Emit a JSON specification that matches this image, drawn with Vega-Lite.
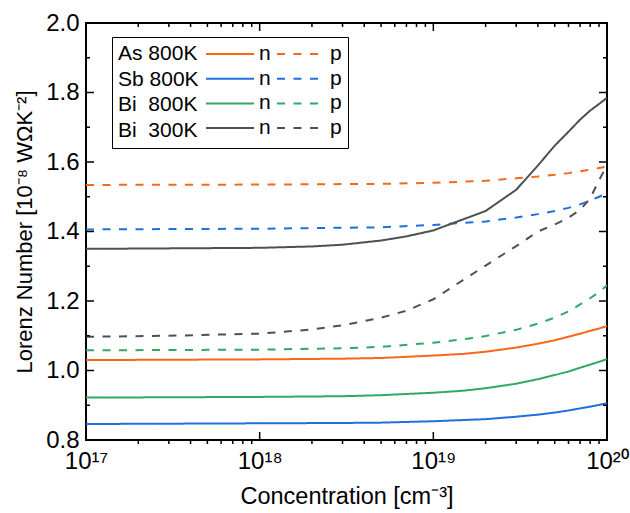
{
  "$schema": "https://vega.github.io/schema/vega-lite/v6.json",
  "width": 521,
  "height": 417,
  "autosize": {"type": "none"},
  "padding": {"left": 86, "top": 23, "right": 23, "bottom": 73},
  "background": "white",
  "config": {
    "view": {"stroke": "black", "strokeWidth": 2},
    "font": "Liberation Sans",
    "axis": {
      "labelFont": "Liberation Sans",
      "titleFont": "Liberation Sans",
      "labelColor": "black",
      "titleColor": "black",
      "grid": false,
      "ticks": false,
      "domain": false,
      "titleFontWeight": "normal",
      "labelFontSize": 24,
      "titleFontSize": 23
    }
  },
  "datasets": {
    "curves": [
      {"sample": "As 800K", "carrier": "n", "conc": 1e17, "L": 1.030},
      {"sample": "As 800K", "carrier": "n", "conc": 1e18, "L": 1.032},
      {"sample": "As 800K", "carrier": "n", "conc": 3e18, "L": 1.034},
      {"sample": "As 800K", "carrier": "n", "conc": 5e18, "L": 1.036},
      {"sample": "As 800K", "carrier": "n", "conc": 1e19, "L": 1.043},
      {"sample": "As 800K", "carrier": "n", "conc": 1.5e19, "L": 1.048},
      {"sample": "As 800K", "carrier": "n", "conc": 2e19, "L": 1.054},
      {"sample": "As 800K", "carrier": "n", "conc": 3e19, "L": 1.066},
      {"sample": "As 800K", "carrier": "n", "conc": 4e19, "L": 1.077},
      {"sample": "As 800K", "carrier": "n", "conc": 5e19, "L": 1.087},
      {"sample": "As 800K", "carrier": "n", "conc": 6e19, "L": 1.097},
      {"sample": "As 800K", "carrier": "n", "conc": 7e19, "L": 1.106},
      {"sample": "As 800K", "carrier": "n", "conc": 8e19, "L": 1.114},
      {"sample": "As 800K", "carrier": "n", "conc": 9e19, "L": 1.121},
      {"sample": "As 800K", "carrier": "n", "conc": 1e20, "L": 1.128},
      {"sample": "As 800K", "carrier": "p", "conc": 1e17, "L": 1.534},
      {"sample": "As 800K", "carrier": "p", "conc": 1e18, "L": 1.535},
      {"sample": "As 800K", "carrier": "p", "conc": 5e18, "L": 1.537},
      {"sample": "As 800K", "carrier": "p", "conc": 1e19, "L": 1.540},
      {"sample": "As 800K", "carrier": "p", "conc": 2e19, "L": 1.546},
      {"sample": "As 800K", "carrier": "p", "conc": 3e19, "L": 1.553},
      {"sample": "As 800K", "carrier": "p", "conc": 4e19, "L": 1.558},
      {"sample": "As 800K", "carrier": "p", "conc": 5e19, "L": 1.563},
      {"sample": "As 800K", "carrier": "p", "conc": 6e19, "L": 1.568},
      {"sample": "As 800K", "carrier": "p", "conc": 7e19, "L": 1.573},
      {"sample": "As 800K", "carrier": "p", "conc": 8e19, "L": 1.578},
      {"sample": "As 800K", "carrier": "p", "conc": 9e19, "L": 1.583},
      {"sample": "As 800K", "carrier": "p", "conc": 1e20, "L": 1.587},
      {"sample": "Sb 800K", "carrier": "n", "conc": 1e17, "L": 0.846},
      {"sample": "Sb 800K", "carrier": "n", "conc": 1e18, "L": 0.848},
      {"sample": "Sb 800K", "carrier": "n", "conc": 3e18, "L": 0.849},
      {"sample": "Sb 800K", "carrier": "n", "conc": 5e18, "L": 0.850},
      {"sample": "Sb 800K", "carrier": "n", "conc": 1e19, "L": 0.854},
      {"sample": "Sb 800K", "carrier": "n", "conc": 2e19, "L": 0.860},
      {"sample": "Sb 800K", "carrier": "n", "conc": 3e19, "L": 0.867},
      {"sample": "Sb 800K", "carrier": "n", "conc": 4e19, "L": 0.873},
      {"sample": "Sb 800K", "carrier": "n", "conc": 5e19, "L": 0.879},
      {"sample": "Sb 800K", "carrier": "n", "conc": 6e19, "L": 0.885},
      {"sample": "Sb 800K", "carrier": "n", "conc": 7e19, "L": 0.891},
      {"sample": "Sb 800K", "carrier": "n", "conc": 8e19, "L": 0.896},
      {"sample": "Sb 800K", "carrier": "n", "conc": 9e19, "L": 0.901},
      {"sample": "Sb 800K", "carrier": "n", "conc": 1e20, "L": 0.906},
      {"sample": "Sb 800K", "carrier": "p", "conc": 1e17, "L": 1.406},
      {"sample": "Sb 800K", "carrier": "p", "conc": 1e18, "L": 1.408},
      {"sample": "Sb 800K", "carrier": "p", "conc": 5e18, "L": 1.412},
      {"sample": "Sb 800K", "carrier": "p", "conc": 1e19, "L": 1.419},
      {"sample": "Sb 800K", "carrier": "p", "conc": 2e19, "L": 1.429},
      {"sample": "Sb 800K", "carrier": "p", "conc": 3e19, "L": 1.440},
      {"sample": "Sb 800K", "carrier": "p", "conc": 4e19, "L": 1.450},
      {"sample": "Sb 800K", "carrier": "p", "conc": 5e19, "L": 1.459},
      {"sample": "Sb 800K", "carrier": "p", "conc": 6e19, "L": 1.468},
      {"sample": "Sb 800K", "carrier": "p", "conc": 7e19, "L": 1.478},
      {"sample": "Sb 800K", "carrier": "p", "conc": 8e19, "L": 1.489},
      {"sample": "Sb 800K", "carrier": "p", "conc": 9e19, "L": 1.500},
      {"sample": "Sb 800K", "carrier": "p", "conc": 1e20, "L": 1.510},
      {"sample": "Bi 800K", "carrier": "n", "conc": 1e17, "L": 0.922},
      {"sample": "Bi 800K", "carrier": "n", "conc": 1e18, "L": 0.924},
      {"sample": "Bi 800K", "carrier": "n", "conc": 3e18, "L": 0.926},
      {"sample": "Bi 800K", "carrier": "n", "conc": 5e18, "L": 0.929},
      {"sample": "Bi 800K", "carrier": "n", "conc": 1e19, "L": 0.936},
      {"sample": "Bi 800K", "carrier": "n", "conc": 1.5e19, "L": 0.942},
      {"sample": "Bi 800K", "carrier": "n", "conc": 2e19, "L": 0.949},
      {"sample": "Bi 800K", "carrier": "n", "conc": 3e19, "L": 0.962},
      {"sample": "Bi 800K", "carrier": "n", "conc": 4e19, "L": 0.975},
      {"sample": "Bi 800K", "carrier": "n", "conc": 5e19, "L": 0.987},
      {"sample": "Bi 800K", "carrier": "n", "conc": 6e19, "L": 0.997},
      {"sample": "Bi 800K", "carrier": "n", "conc": 7e19, "L": 1.008},
      {"sample": "Bi 800K", "carrier": "n", "conc": 8e19, "L": 1.017},
      {"sample": "Bi 800K", "carrier": "n", "conc": 9e19, "L": 1.025},
      {"sample": "Bi 800K", "carrier": "n", "conc": 1e20, "L": 1.033},
      {"sample": "Bi 800K", "carrier": "p", "conc": 1e17, "L": 1.058},
      {"sample": "Bi 800K", "carrier": "p", "conc": 1e18, "L": 1.060},
      {"sample": "Bi 800K", "carrier": "p", "conc": 3e18, "L": 1.064},
      {"sample": "Bi 800K", "carrier": "p", "conc": 5e18, "L": 1.068},
      {"sample": "Bi 800K", "carrier": "p", "conc": 1e19, "L": 1.080},
      {"sample": "Bi 800K", "carrier": "p", "conc": 1.5e19, "L": 1.090},
      {"sample": "Bi 800K", "carrier": "p", "conc": 2e19, "L": 1.099},
      {"sample": "Bi 800K", "carrier": "p", "conc": 3e19, "L": 1.117},
      {"sample": "Bi 800K", "carrier": "p", "conc": 4e19, "L": 1.135},
      {"sample": "Bi 800K", "carrier": "p", "conc": 5e19, "L": 1.152},
      {"sample": "Bi 800K", "carrier": "p", "conc": 6e19, "L": 1.170},
      {"sample": "Bi 800K", "carrier": "p", "conc": 7e19, "L": 1.190},
      {"sample": "Bi 800K", "carrier": "p", "conc": 8e19, "L": 1.208},
      {"sample": "Bi 800K", "carrier": "p", "conc": 9e19, "L": 1.226},
      {"sample": "Bi 800K", "carrier": "p", "conc": 1e20, "L": 1.245},
      {"sample": "Bi 300K", "carrier": "n", "conc": 1e17, "L": 1.350},
      {"sample": "Bi 300K", "carrier": "n", "conc": 1e18, "L": 1.353},
      {"sample": "Bi 300K", "carrier": "n", "conc": 2e18, "L": 1.357},
      {"sample": "Bi 300K", "carrier": "n", "conc": 3e18, "L": 1.362},
      {"sample": "Bi 300K", "carrier": "n", "conc": 5e18, "L": 1.374},
      {"sample": "Bi 300K", "carrier": "n", "conc": 7e18, "L": 1.386},
      {"sample": "Bi 300K", "carrier": "n", "conc": 1e19, "L": 1.403},
      {"sample": "Bi 300K", "carrier": "n", "conc": 2e19, "L": 1.459},
      {"sample": "Bi 300K", "carrier": "n", "conc": 3e19, "L": 1.520},
      {"sample": "Bi 300K", "carrier": "n", "conc": 4e19, "L": 1.590},
      {"sample": "Bi 300K", "carrier": "n", "conc": 5e19, "L": 1.647},
      {"sample": "Bi 300K", "carrier": "n", "conc": 6e19, "L": 1.687},
      {"sample": "Bi 300K", "carrier": "n", "conc": 7e19, "L": 1.722},
      {"sample": "Bi 300K", "carrier": "n", "conc": 8e19, "L": 1.748},
      {"sample": "Bi 300K", "carrier": "n", "conc": 9e19, "L": 1.767},
      {"sample": "Bi 300K", "carrier": "n", "conc": 1e20, "L": 1.785},
      {"sample": "Bi 300K", "carrier": "p", "conc": 1e17, "L": 1.097},
      {"sample": "Bi 300K", "carrier": "p", "conc": 3e17, "L": 1.100},
      {"sample": "Bi 300K", "carrier": "p", "conc": 1e18, "L": 1.106},
      {"sample": "Bi 300K", "carrier": "p", "conc": 2e18, "L": 1.118},
      {"sample": "Bi 300K", "carrier": "p", "conc": 3e18, "L": 1.130},
      {"sample": "Bi 300K", "carrier": "p", "conc": 5e18, "L": 1.152},
      {"sample": "Bi 300K", "carrier": "p", "conc": 7e18, "L": 1.172},
      {"sample": "Bi 300K", "carrier": "p", "conc": 1e19, "L": 1.205},
      {"sample": "Bi 300K", "carrier": "p", "conc": 2e19, "L": 1.302},
      {"sample": "Bi 300K", "carrier": "p", "conc": 3e19, "L": 1.358},
      {"sample": "Bi 300K", "carrier": "p", "conc": 4e19, "L": 1.400},
      {"sample": "Bi 300K", "carrier": "p", "conc": 5e19, "L": 1.420},
      {"sample": "Bi 300K", "carrier": "p", "conc": 6e19, "L": 1.440},
      {"sample": "Bi 300K", "carrier": "p", "conc": 7e19, "L": 1.462},
      {"sample": "Bi 300K", "carrier": "p", "conc": 8e19, "L": 1.495},
      {"sample": "Bi 300K", "carrier": "p", "conc": 9e19, "L": 1.548},
      {"sample": "Bi 300K", "carrier": "p", "conc": 1e20, "L": 1.590}
    ],
    "xmajor": [{"t": 1e17}, {"t": 1e18}, {"t": 1e19}, {"t": 1e20}],
    "xminor": [
      {"t": 2e17}, {"t": 3e17}, {"t": 4e17}, {"t": 5e17}, {"t": 6e17}, {"t": 7e17}, {"t": 8e17}, {"t": 9e17},
      {"t": 2e18}, {"t": 3e18}, {"t": 4e18}, {"t": 5e18}, {"t": 6e18}, {"t": 7e18}, {"t": 8e18}, {"t": 9e18},
      {"t": 2e19}, {"t": 3e19}, {"t": 4e19}, {"t": 5e19}, {"t": 6e19}, {"t": 7e19}, {"t": 8e19}, {"t": 9e19}
    ],
    "ymajor": [{"v": 0.8}, {"v": 1.0}, {"v": 1.2}, {"v": 1.4}, {"v": 1.6}, {"v": 1.8}, {"v": 2.0}],
    "yminor": [{"v": 0.9}, {"v": 1.1}, {"v": 1.3}, {"v": 1.5}, {"v": 1.7}, {"v": 1.9}]
  },
  "layer": [
    {
      "data": {"name": "curves"},
      "transform": [{"calculate": "datum.sample + ' ' + datum.carrier", "as": "key"}],
      "mark": {"type": "line", "strokeWidth": 2, "clip": true},
      "encoding": {
        "x": {
          "field": "conc", "type": "quantitative",
          "scale": {"type": "log", "domain": [1e17, 1e20], "nice": false},
          "axis": {
            "orient": "bottom",
            "values": [1e17, 1e18, 1e19, 1e20],
            "labelExpr": "['10¹⁷','10¹⁸','10¹⁹','10²⁰'][round(log(datum.value)/LN10) - 17]",
            "labelFlush": false,
            "labelPadding": 9,
            "title": "Concentration [cm⁻³]",
            "titleFontSize": 23.5,
            "titlePadding": 11
          }
        },
        "y": {
          "field": "L", "type": "quantitative",
          "scale": {"domain": [0.8, 2.0], "nice": false, "zero": false},
          "axis": {
            "orient": "left",
            "values": [0.8, 1.0, 1.2, 1.4, 1.6, 1.8, 2.0],
            "format": ".1f",
            "labelFlush": false,
            "labelPadding": 7,
            "title": "Lorenz Number [10⁻⁸ WΩK⁻²]",
            "titleFontSize": 22,
            "titlePadding": 9
          }
        },
        "color": {
          "field": "key", "type": "nominal",
          "scale": {
            "domain": ["As 800K n", "As 800K p", "Sb 800K n", "Sb 800K p", "Bi 800K n", "Bi 800K p", "Bi 300K n", "Bi 300K p"],
            "range": ["#FA6717", "#FA6717", "#1F6FE0", "#1F6FE0", "#33A865", "#33A865", "#505050", "#505050"]
          },
          "legend": {
            "orient": "none", "legendX": 26, "legendY": 14, "direction": "horizontal",
            "title": ["As 800K", "Sb 800K", "Bi\u00a0 800K", "Bi\u00a0 300K"],
            "titleOrient": "left", "titleFontSize": 21, "titleFontWeight": "normal",
            "titleLineHeight": 25.7, "titleFont": "Liberation Sans", "titlePadding": 6,
            "titleColor": "black", "titleAnchor": "start", "titleBaseline": "top",
            "columns": 2, "symbolType": "M-1,0L3.8,0", "symbolSize": 400, "symbolStrokeWidth": 2,
            "labelExpr": "slice(datum.label, -1)", "labelFont": "Liberation Sans",
            "labelFontSize": 21, "labelColor": "black", "labelOffset": 32,
            "rowPadding": 3.7, "columnPadding": 2,
            "strokeColor": "black", "padding": 6, "fillColor": "white"
          }
        },
        "strokeDash": {
          "field": "key", "type": "nominal",
          "scale": {
            "domain": ["As 800K n", "As 800K p", "Sb 800K n", "Sb 800K p", "Bi 800K n", "Bi 800K p", "Bi 300K n", "Bi 300K p"],
            "range": [[1, 0], [8, 8.5], [1, 0], [8, 8.5], [1, 0], [8, 8.5], [1, 0], [8, 8.5]]
          },
          "legend": {
            "orient": "none", "legendX": 26, "legendY": 14, "direction": "horizontal",
            "title": ["As 800K", "Sb 800K", "Bi\u00a0 800K", "Bi\u00a0 300K"],
            "titleOrient": "left", "titleFontSize": 21, "titleFontWeight": "normal",
            "titleLineHeight": 25.7, "titleFont": "Liberation Sans", "titlePadding": 6,
            "titleColor": "black", "titleAnchor": "start", "titleBaseline": "top",
            "columns": 2, "symbolType": "M-1,0L3.8,0", "symbolSize": 400, "symbolStrokeWidth": 2,
            "labelExpr": "slice(datum.label, -1)", "labelFont": "Liberation Sans",
            "labelFontSize": 21, "labelColor": "black", "labelOffset": 32,
            "rowPadding": 3.7, "columnPadding": 2,
            "strokeColor": "black", "padding": 6, "fillColor": "white"
          }
        }
      }
    },
    {
      "data": {"name": "xmajor"},
      "mark": {"type": "rule", "color": "black", "strokeWidth": 1.5},
      "encoding": {
        "x": {"field": "t", "type": "quantitative", "scale": {"type": "log", "domain": [1e17, 1e20], "nice": false}, "axis": null},
        "y": {"datum": 0.8, "type": "quantitative", "scale": {"domain": [0.8, 2.0], "nice": false, "zero": false}, "axis": null},
        "y2": {"datum": 0.823}
      }
    },
    {
      "data": {"name": "xmajor"},
      "mark": {"type": "rule", "color": "black", "strokeWidth": 1.5},
      "encoding": {
        "x": {"field": "t", "type": "quantitative", "scale": {"type": "log", "domain": [1e17, 1e20], "nice": false}, "axis": null},
        "y": {"datum": 2.0, "type": "quantitative", "scale": {"domain": [0.8, 2.0], "nice": false, "zero": false}, "axis": null},
        "y2": {"datum": 1.977}
      }
    },
    {
      "data": {"name": "xminor"},
      "mark": {"type": "rule", "color": "black", "strokeWidth": 1.5},
      "encoding": {
        "x": {"field": "t", "type": "quantitative", "scale": {"type": "log", "domain": [1e17, 1e20], "nice": false}, "axis": null},
        "y": {"datum": 0.8, "type": "quantitative", "scale": {"domain": [0.8, 2.0], "nice": false, "zero": false}, "axis": null},
        "y2": {"datum": 0.7885}
      }
    },
    {
      "data": {"name": "xminor"},
      "mark": {"type": "rule", "color": "black", "strokeWidth": 1.5},
      "encoding": {
        "x": {"field": "t", "type": "quantitative", "scale": {"type": "log", "domain": [1e17, 1e20], "nice": false}, "axis": null},
        "y": {"datum": 2.0, "type": "quantitative", "scale": {"domain": [0.8, 2.0], "nice": false, "zero": false}, "axis": null},
        "y2": {"datum": 1.9885}
      }
    },
    {
      "data": {"name": "ymajor"},
      "mark": {"type": "rule", "color": "black", "strokeWidth": 1.5},
      "encoding": {
        "y": {"field": "v", "type": "quantitative", "scale": {"domain": [0.8, 2.0], "nice": false, "zero": false}, "axis": null},
        "x": {"datum": 1e17, "type": "quantitative", "scale": {"type": "log", "domain": [1e17, 1e20], "nice": false}, "axis": null},
        "x2": {"datum": 1.1119e17}
      }
    },
    {
      "data": {"name": "ymajor"},
      "mark": {"type": "rule", "color": "black", "strokeWidth": 1.5},
      "encoding": {
        "y": {"field": "v", "type": "quantitative", "scale": {"domain": [0.8, 2.0], "nice": false, "zero": false}, "axis": null},
        "x": {"datum": 8.9936e19, "type": "quantitative", "scale": {"type": "log", "domain": [1e17, 1e20], "nice": false}, "axis": null},
        "x2": {"datum": 1e20}
      }
    },
    {
      "data": {"name": "yminor"},
      "mark": {"type": "rule", "color": "black", "strokeWidth": 1.5},
      "encoding": {
        "y": {"field": "v", "type": "quantitative", "scale": {"domain": [0.8, 2.0], "nice": false, "zero": false}, "axis": null},
        "x": {"datum": 1e17, "type": "quantitative", "scale": {"type": "log", "domain": [1e17, 1e20], "nice": false}, "axis": null},
        "x2": {"datum": 1.0545e17}
      }
    },
    {
      "data": {"name": "yminor"},
      "mark": {"type": "rule", "color": "black", "strokeWidth": 1.5},
      "encoding": {
        "y": {"field": "v", "type": "quantitative", "scale": {"domain": [0.8, 2.0], "nice": false, "zero": false}, "axis": null},
        "x": {"datum": 9.483e19, "type": "quantitative", "scale": {"type": "log", "domain": [1e17, 1e20], "nice": false}, "axis": null},
        "x2": {"datum": 1e20}
      }
    }
  ],
  "resolve": {"axis": {"x": "independent", "y": "independent"}}
}
